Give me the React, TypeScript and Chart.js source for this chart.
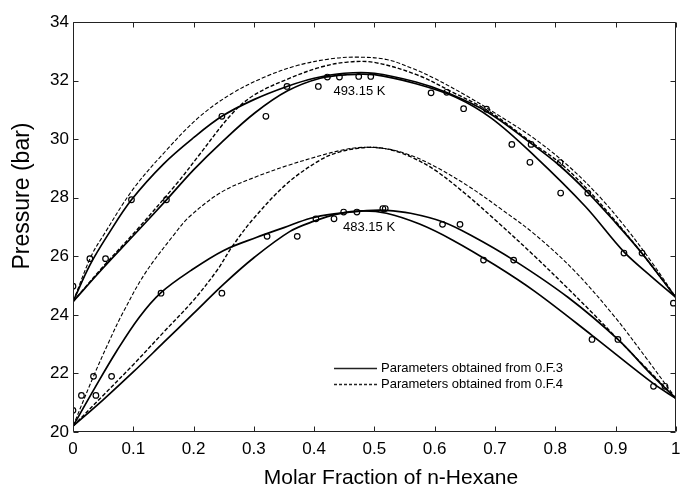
import React, { useEffect, useRef } from 'react';
import { Chart, registerables } from 'chart.js';

Chart.register(...registerables);

const FONT = '"Liberation Sans", Arial, Helvetica, sans-serif';

// Axis ticks
const xTickValues = [0, 0.1, 0.2, 0.3, 0.4, 0.5, 0.6, 0.7, 0.8, 0.9, 1];
const xTickLabels = ['0', '0.1', '0.2', '0.3', '0.4', '0.5', '0.6', '0.7', '0.8', '0.9', '1'];
const yTickValues = [20, 22, 24, 26, 28, 30, 32, 34];
const yTickLabels = ['20', '22', '24', '26', '28', '30', '32', '34'];

// 493.15 K – Parameters obtained from O.F.3 (solid)
const bubble493X = [0, 0.028, 0.06, 0.097, 0.15, 0.2, 0.247, 0.3, 0.355, 0.4, 0.45, 0.5, 0.569, 0.619, 0.688, 0.761, 0.807, 0.853, 0.9, 0.942, 1.0];
const bubble493Y = [24.45, 25.7, 26.8, 27.93, 29.15, 30.05, 30.78, 31.35, 31.8, 32.08, 32.25, 32.25, 31.95, 31.6, 30.92, 29.84, 29.1, 28.2, 27.15, 26.15, 24.6];
const dew493X = [0, 0.05, 0.1, 0.154, 0.2, 0.247, 0.302, 0.356, 0.41, 0.455, 0.5, 0.569, 0.635, 0.695, 0.766, 0.85, 0.914, 0.96, 1.0];
const dew493Y = [24.45, 25.6, 26.7, 27.9, 28.95, 29.9, 30.9, 31.65, 32.08, 32.2, 32.2, 31.89, 31.43, 30.7, 29.42, 27.7, 26.15, 25.3, 24.6];

// 493.15 K – Parameters obtained from O.F.4 (dashed)
const bubble493bX = [0, 0.03, 0.05, 0.1, 0.154, 0.209, 0.263, 0.318, 0.373, 0.427, 0.47, 0.52, 0.565, 0.602, 0.657, 0.711, 0.766, 0.821, 0.875, 0.92, 0.96, 1.0];
const bubble493bY = [24.45, 26.0, 26.7, 28.3, 29.6, 30.75, 31.55, 32.12, 32.52, 32.74, 32.8, 32.72, 32.4, 32.05, 31.43, 30.75, 30.01, 29.1, 28.0, 26.9, 25.8, 24.6];
const dew493bX = [0, 0.05, 0.105, 0.176, 0.209, 0.263, 0.3, 0.356, 0.411, 0.455, 0.5, 0.57, 0.63, 0.69, 0.76, 0.81, 0.855, 0.9, 0.94, 1.0];
const dew493bY = [24.45, 25.65, 26.88, 28.58, 29.45, 30.85, 31.5, 32.05, 32.46, 32.63, 32.62, 32.2, 31.6, 30.95, 29.9, 29.15, 28.25, 27.2, 26.2, 24.6];

// 483.15 K – Parameters obtained from O.F.3 (solid)
const bubble483X = [0, 0.036, 0.072, 0.11, 0.146, 0.196, 0.25, 0.305, 0.35, 0.394, 0.433, 0.487, 0.52, 0.56, 0.613, 0.66, 0.731, 0.821, 0.904, 0.96, 1.0];
const bubble483Y = [20.2, 21.5, 22.75, 23.92, 24.76, 25.52, 26.2, 26.65, 26.98, 27.3, 27.45, 27.56, 27.57, 27.47, 27.18, 26.72, 25.87, 24.6, 23.16, 21.95, 21.15];
const dew483X = [0, 0.05, 0.1, 0.15, 0.2, 0.25, 0.3, 0.36, 0.4, 0.44, 0.48, 0.52, 0.575, 0.63, 0.7, 0.766, 0.861, 0.963, 1.0];
const dew483Y = [20.2, 21.1, 22.05, 23.05, 24.05, 25.05, 25.95, 26.85, 27.2, 27.45, 27.55, 27.47, 27.1, 26.55, 25.7, 24.8, 23.3, 21.65, 21.15];

// 483.15 K – Parameters obtained from O.F.4 (dashed)
const bubble483bX = [0, 0.034, 0.06, 0.081, 0.119, 0.168, 0.193, 0.247, 0.302, 0.356, 0.411, 0.445, 0.48, 0.52, 0.56, 0.602, 0.657, 0.711, 0.766, 0.832, 0.898, 0.95, 1.0];
const bubble483bY = [20.2, 21.9, 23.1, 24.0, 25.4, 26.75, 27.35, 28.2, 28.7, 29.1, 29.44, 29.62, 29.72, 29.67, 29.45, 29.05, 28.38, 27.6, 26.75, 25.5, 23.95, 22.55, 21.15];
const dew483bX = [0, 0.05, 0.1, 0.15, 0.2, 0.24, 0.263, 0.3, 0.356, 0.411, 0.44, 0.47, 0.5, 0.53, 0.56, 0.6, 0.65, 0.7, 0.766, 0.821, 0.86, 0.9, 0.95, 1.0];
const dew483bY = [20.2, 21.25, 22.3, 23.4, 24.5, 25.55, 26.3, 27.3, 28.5, 29.3, 29.55, 29.68, 29.72, 29.62, 29.4, 28.95, 28.15, 27.25, 26.0, 24.9, 24.1, 23.25, 22.2, 21.15];

// Experimental points
const exp493X = [0, 0.028, 0.054, 0.097, 0.155, 0.247, 0.32, 0.355, 0.407, 0.422, 0.442, 0.474, 0.494, 0.594, 0.62, 0.648, 0.686, 0.728, 0.76, 0.758, 0.808, 0.809, 0.854, 0.914, 0.944, 0.996];
const exp493Y = [24.98, 25.92, 25.92, 27.93, 27.93, 30.78, 30.78, 31.8, 31.8, 32.12, 32.12, 32.14, 32.14, 31.58, 31.6, 31.04, 31.02, 29.82, 29.82, 29.21, 29.2, 28.16, 28.16, 26.11, 26.11, 24.4];
const exp483X = [0, 0.014, 0.038, 0.034, 0.064, 0.146, 0.247, 0.322, 0.372, 0.403, 0.433, 0.449, 0.471, 0.514, 0.518, 0.613, 0.642, 0.681, 0.731, 0.861, 0.904, 0.963, 0.982];
const exp483Y = [20.74, 21.25, 21.25, 21.9, 21.9, 24.74, 24.74, 26.68, 26.68, 27.28, 27.28, 27.51, 27.51, 27.63, 27.63, 27.09, 27.09, 25.87, 25.87, 23.16, 23.16, 21.56, 21.56];

const legendLabels = ['Parameters obtained from 0.F.3', 'Parameters obtained from 0.F.4'];
const isothermLabels = ['493.15 K', '483.15 K'];
const isothermLabelX = [0.432, 0.448];
const isothermLabelY = [31.63, 26.99];
const xTitle = 'Molar Fraction of n-Hexane';
const yTitle = 'Pressure (bar)';

const pts = (xs: number[], ys: number[]) => xs.map((x, i) => ({ x, y: ys[i] }));

const TENSION = 0.35;
const solidLine = (xs: number[], ys: number[]) => ({
  data: pts(xs, ys),
  showLine: true,
  borderColor: '#000',
  borderWidth: 1.7,
  pointRadius: 0,
  tension: TENSION,
  fill: false,
});
const dashLine = (xs: number[], ys: number[], w: number) => ({
  data: pts(xs, ys),
  showLine: true,
  borderColor: '#000',
  borderWidth: w,
  borderDash: [4, 2],
  pointRadius: 0,
  tension: TENSION,
  fill: false,
});
const markers = (xs: number[], ys: number[]) => ({
  data: pts(xs, ys),
  showLine: false,
  pointStyle: 'circle' as const,
  pointRadius: 2.8,
  pointBorderWidth: 1.2,
  pointBorderColor: '#000',
  pointBackgroundColor: 'rgba(0,0,0,0)',
});

export default function App() {
  const ref = useRef<HTMLCanvasElement>(null);
  useEffect(() => {
    document.body.style.margin = '0';
    const canvas = ref.current!;
    const decor = {
      id: 'decor',
      afterDraw(chart: any) {
        const { ctx, chartArea: a, scales } = chart;
        const xs = scales.x;
        const ys = scales.y;
        const L = Math.round(a.left) + 0.5;
        const R = Math.round(a.right) - 0.5;
        const T = Math.round(a.top) + 0.5;
        const B = Math.round(a.bottom) - 0.5;
        ctx.save();
        ctx.strokeStyle = '#222';
        ctx.lineWidth = 1;
        ctx.setLineDash([]);
        ctx.beginPath();
        ctx.moveTo(L, T); ctx.lineTo(R, T); ctx.lineTo(R, B); ctx.lineTo(L, B); ctx.closePath();
        const tl = 5;
        xTickValues.forEach((v) => {
          const p = Math.round(xs.getPixelForValue(v)) + 0.5;
          ctx.moveTo(p, B); ctx.lineTo(p, B - tl);
          ctx.moveTo(p, T); ctx.lineTo(p, T + tl);
        });
        yTickValues.forEach((v) => {
          const p = Math.round(ys.getPixelForValue(v)) + 0.5;
          ctx.moveTo(L, p); ctx.lineTo(L + tl, p);
          ctx.moveTo(R, p); ctx.lineTo(R - tl, p);
        });
        ctx.stroke();

        // axis titles
        ctx.fillStyle = '#000';
        ctx.font = `21px ${FONT}`;
        ctx.textAlign = 'center';
        ctx.textBaseline = 'alphabetic';
        ctx.fillText(xTitle, 391, 484);
        ctx.save();
        ctx.translate(29, 196);
        ctx.rotate(-Math.PI / 2);
        ctx.font = `23px ${FONT}`;
        ctx.fillText(yTitle, 0, 0);
        ctx.restore();

        // isotherm labels
        ctx.font = `13px ${FONT}`;
        ctx.textAlign = 'left';
        ctx.textBaseline = 'middle';
        isothermLabels.forEach((t, i) => {
          ctx.fillText(t, xs.getPixelForValue(isothermLabelX[i]), ys.getPixelForValue(isothermLabelY[i]));
        });

        // legend
        const lx = xs.getPixelForValue(0.433);
        const ly = ys.getPixelForValue(22.2);
        const rowH = 16.7;
        legendLabels.forEach((t, i) => {
          const y = Math.round(ly + i * rowH) + 0.5;
          ctx.beginPath();
          ctx.lineWidth = i === 0 ? 1.7 : 1.3;
          ctx.setLineDash(i === 0 ? [] : [3, 2]);
          ctx.moveTo(lx, y);
          ctx.lineTo(lx + 43, y);
          ctx.stroke();
          ctx.setLineDash([]);
          ctx.fillText(t, lx + 47, y);
        });
        ctx.restore();
      },
    };

    const chart = new Chart(canvas, {
      type: 'scatter',
      data: {
        datasets: [
          markers(exp493X, exp493Y),
          markers(exp483X, exp483Y),
          solidLine(bubble493X, bubble493Y),
          solidLine(dew493X, dew493Y),
          dashLine(bubble493bX, bubble493bY, 1.1),
          dashLine(dew493bX, dew493bY, 1.4),
          solidLine(bubble483X, bubble483Y),
          solidLine(dew483X, dew483Y),
          dashLine(bubble483bX, bubble483bY, 1.1),
          dashLine(dew483bX, dew483bY, 1.4),
        ] as any,
      },
      options: {
        animation: false,
        responsive: false,
        maintainAspectRatio: false,
        layout: { padding: { top: 22, right: 1, bottom: 0, left: 0 } },
        plugins: { legend: { display: false }, tooltip: { enabled: false } },
        scales: {
          x: {
            type: 'linear',
            min: 0,
            max: 1,
            grid: { display: false, drawTicks: false },
            border: { display: false },
            afterBuildTicks: (s: any) => { s.ticks = xTickValues.map((v) => ({ value: v })); },
            afterFit: (s: any) => { s.height = 54; s.paddingLeft = 0; s.paddingRight = 0; },
            ticks: {
              autoSkip: false,
              maxRotation: 0,
              padding: 7,
              color: '#000',
              font: { family: FONT, size: 17 },
              callback: (_v: any, i: number) => xTickLabels[i],
            },
          },
          y: {
            type: 'linear',
            min: 20,
            max: 34,
            grid: { display: false, drawTicks: false },
            border: { display: false },
            afterBuildTicks: (s: any) => { s.ticks = yTickValues.map((v) => ({ value: v })); },
            afterFit: (s: any) => { s.width = 73; s.paddingTop = 0; s.paddingBottom = 0; },
            ticks: {
              autoSkip: false,
              padding: 4,
              color: '#000',
              font: { family: FONT, size: 17 },
              callback: (_v: any, i: number) => yTickLabels[i],
            },
          },
        },
      },
      plugins: [decor],
    });
    return () => chart.destroy();
  }, []);

  return (
    <div style={{ position: 'fixed', left: 0, top: 0, width: 681, height: 486, background: '#fff' }}>
      <canvas ref={ref} width={681} height={486} style={{ width: 681, height: 486, display: 'block' }} />
    </div>
  );
}
